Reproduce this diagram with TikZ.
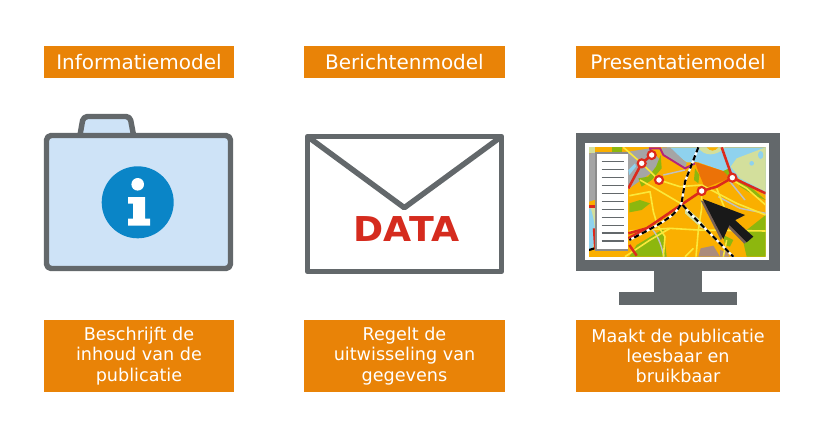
\documentclass[tikz,border=0pt]{standalone}
\usepackage{fontspec}
\setmainfont{DejaVu Sans}
\definecolor{kader}{HTML}{E98307}
\definecolor{ikoon}{HTML}{63686B}
\definecolor{map}{HTML}{CEE3F7}
\definecolor{infoblue}{HTML}{0A85C7}
\definecolor{datared}{HTML}{D52B1E}
\definecolor{land}{HTML}{FAAF00}
\definecolor{landdark}{HTML}{EC7207}
\definecolor{river}{HTML}{8FD2EE}
\definecolor{meadow}{HTML}{D3DF9C}
\definecolor{forest}{HTML}{8DB70E}
\definecolor{city}{HTML}{A5A5A5}
\definecolor{mauve}{HTML}{AB8C7C}
\definecolor{road}{HTML}{FBE83A}
\definecolor{redroad}{HTML}{DC2A1C}
\definecolor{purple}{HTML}{B4247A}
\tikzset{
  titlebox/.style={fill=kader,text=white,minimum width=#1,minimum height=32*0.75pt,inner sep=0pt,font=\fontsize{15}{18}\selectfont},
  textbox/.style={fill=kader,text=white,minimum width=#1,minimum height=72*0.75pt,inner sep=0pt,align=center,font=\fontsize{13.2}{15.6}\selectfont},
  icon/.style={draw=ikoon,line width=4.1pt,line join=round},
  yroad/.style={draw=road,line width=1.2pt,line join=round},
  groad/.style={draw=city!70!white,line width=1.1pt},
  rroad/.style={draw=redroad,line width=1.9pt,line join=round},
  halte/.style={circle,draw=redroad,fill=white,line width=1.6pt,minimum size=6pt,inner sep=0pt},
}
\begin{document}
\begin{tikzpicture}[x=0.75pt,y=-0.75pt]
\useasboundingbox (0,0) rectangle (830,425);

% Drawing the title boxes
\node [titlebox=142.5pt] (titleinfo) at (139,62) {Informatiemodel};
\node [titlebox=150.75pt] (titlemsg) at (404.5,62) {Berichtenmodel};
\node [titlebox=153pt] (titlepres) at (678,62) {Presentatiemodel};

% Drawing the text boxes
\node [textbox=142.5pt] (textinfo) at (139,356) {\raisebox{-0.75pt}{Beschrijft de}\\inhoud van de\\publicatie};
\node [textbox=150.75pt] (textmsg) at (404.5,356) {\raisebox{-0.75pt}{Regelt de}\\uitwisseling van\\gegevens};
\node [textbox=153pt] (textpres) at (678,356) {\raisebox{-0.75pt}{Maakt de publicatie}\\leesbaar en\\bruikbaar};

% Drawing folder
\draw [icon,fill=map] (80,135) -- (82.5,121) [rounded corners=3pt] -- (83.5,116.5) -- (130,116.5) [sharp corners] -- (133.5,135);
\draw [icon,fill=map,rounded corners=3.5pt] (46.5,135.5) rectangle (230.5,268.5);
\fill [infoblue] (137.7,202.3) circle (36);
\fill [white] (137.7,184.3) circle (6.3);
\fill [white] (128,197) -- (145,197) -- (145,218.5) -- (150,218.5) -- (150,225.5) -- (128,225.5) -- (128,218.5) -- (133,218.5) -- (133,203.5) -- (128,203.5) -- cycle;

% Drawing envelope
\draw [icon] (307.5,136.5) rectangle (501.5,271.5);
\draw [icon] (307.5,136.5) -- (404.3,207.7) -- (501.5,136.5);
\node [text=datared,inner sep=0pt,xscale=1.06,font=\fontsize{25.7}{26}\selectfont\bfseries] (datalabel) at (406.5,229.5) {DATA};

% Drawing monitor
\fill [ikoon] (619,292) rectangle (737,305);
\fill [ikoon] (654,270) rectangle (702,293);
\fill [ikoon] (576,133) rectangle (780,271);
\fill [white] (585,143) rectangle (769,260);

% Drawing map on the monitor, in steps of a third of a pixel
\begin{scope}[shift={(570,125)},x=0.25pt,y=-0.25pt]
\begin{scope}
\clip (57,67) rectangle (587,395);
\fill [land] (57,67) rectangle (587,395);

% water and meadow
\fill [river] (290,67) -- (350,112) -- (385,112) -- (480,145) -- (587,210) -- (587,67) -- cycle;
\fill [meadow] (587,67) -- (587,200) -- (510,160) -- (482,125) -- (500,100) -- (587,67);
\fill [meadow] (385,67) .. controls (400,95) and (440,95) .. (465,67) -- cycle;
\fill [land] (410,67) .. controls (420,80) and (435,80) .. (445,67) -- cycle;
\fill [river] (545,115) circle (7);
\fill [river] (572,90) ellipse (8 and 12);

% built up area
\fill [city] (57,85) -- (175,80) -- (240,70) -- (270,105) -- (260,135) -- (235,150) -- (178,190) -- (57,230) -- cycle;
\fill [city] (275,67) -- (300,67) -- (350,115) -- (345,130) -- (280,90) -- cycle;
\fill [land] (57,67) rectangle (125,85);
\fill [meadow] (57,67) rectangle (75,85);
\fill [forest] (125,67) rectangle (155,85);
\fill [river] (175,135) -- (195,115) -- (198,125) -- (178,150) -- cycle;
\fill [meadow] (57,240) rectangle (85,372);
\fill [river] (62,250) .. controls (78,300) and (78,340) .. (66,372) -- (57,372) -- (57,250) -- cycle;

% green patches
\fill [forest] (215,185) -- (205,160) -- (235,155) -- (258,125) -- (272,90) -- (275,130) -- (245,165) -- cycle;
\fill [forest] (178,235) -- (210,225) -- (240,235) -- (215,255) -- (178,262) -- cycle;
\fill [forest] (178,395) -- (200,360) -- (280,312) -- (290,395) -- cycle;
\fill [forest] (505,335) -- (587,270) -- (587,395) -- (530,395) -- (520,352) -- cycle;
\fill [forest] (455,140) -- (478,130) -- (485,155) -- (465,160) -- cycle;
\fill [forest] (500,160) -- (540,185) -- (587,225) -- (560,215) -- (510,185) -- cycle;
\fill [forest] (460,330) -- (490,345) -- (480,365) -- (465,360) -- cycle;
\fill [forest] (375,130) -- (388,150) -- (385,175) -- (372,165) -- cycle;
\fill [landdark] (375,111) -- (459,138) -- (480,159) -- (405,189) -- (390,153) -- cycle;
\fill [mauve] (385,395) -- (392,370) -- (430,362) -- (450,395) -- cycle;
\fill [mauve] (450,375) -- (470,380) -- (478,395) -- (450,395) -- cycle;
\fill [meadow] (345,245) -- (385,280) -- (410,310) -- (395,310) -- (345,265) -- cycle;

% grey and yellow roads
\draw [groad] (245,310) .. controls (270,340) and (275,370) .. (282,395);
\draw [groad] (445,215) -- (510,250) -- (587,265);
\draw [groad] (280,150) -- (345,135);
\draw [groad] (480,170) -- (525,225);
\draw [yroad] (160,67) -- (215,115) -- (267,165) -- (330,185) -- (395,180);
\draw [yroad] (178,212) -- (240,200) -- (250,260) -- (262,300) -- (285,335) -- (280,395);
\draw [yroad] (178,318) -- (300,310) -- (385,315) -- (587,318);
\draw [yroad] (165,395) -- (240,345) -- (300,310);
\draw [yroad] (395,200) -- (395,250) -- (385,315) -- (378,395);
\draw [yroad] (440,190) -- (470,265);
\draw [yroad] (487,165) -- (530,190) -- (587,240);
\draw [yroad] (395,180) -- (500,235) -- (587,270);
\draw [yroad] (340,240) -- (255,190) -- (210,165);
\draw [yroad] (460,395) -- (470,345);
\draw [yroad] (370,370) -- (345,395);

% red roads and railway
\draw [draw=purple,line width=1.4pt] (245,90) -- (240,70) -- (270,70) -- (280,90) -- (345,130) -- (375,115);
\draw [rroad] (175,190) -- (215,115) -- (245,90);
\draw [rroad] (175,325) -- (230,310) -- (340,235) -- (395,198) -- (440,185) -- (487,158) -- (587,205);
\draw [rroad] (175,340) -- (240,305);
\draw [rroad] (487,158) -- (455,67);
\draw [rroad] (57,245) -- (75,245);
\draw [rroad] (72,310) -- (76,372);
\draw [rroad] (178,360) -- (200,392);
\draw [draw=white,line width=1.6pt] (385,67) -- (345,170) -- (335,232) .. controls (320,265) and (305,280) .. (178,345);
\draw [draw=black,line width=1.6pt,dash pattern=on 4pt off 2.5pt] (385,67) -- (345,170) -- (335,232) .. controls (320,265) and (305,280) .. (178,345);
\draw [draw=white,line width=1.6pt] (338,240) -- (365,270) -- (490,395);
\draw [draw=black,line width=1.6pt,dash pattern=on 4pt off 2.5pt] (338,240) -- (365,270) -- (490,395);
\draw [draw=black,line width=1.6pt,dash pattern=on 4pt off 2.5pt] (57,375) -- (80,368);

% stations
\node [halte] (haltea) at (215,115) {};
\node [halte] (halteb) at (245,90) {};
\node [halte] (haltec) at (267,165) {};
\node [halte] (halted) at (395,198) {};
\node [halte] (haltee) at (487,158) {};

% cursor
\fill [mauve!70!black] (392,226) -- (518,274) -- (488,289) -- (543,339) -- (523,356) -- (471,304) -- (453,346) -- cycle;
\fill [black!90] (398,222) -- (525,270) -- (495,285) -- (550,335) -- (530,352) -- (478,300) -- (460,342) -- cycle;
\end{scope}

% Drawing list on the map
\fill [black!45] (74,80) rectangle (175,378);
\fill [white] (82,87) rectangle (175,372);
\foreach \ypos in {110,134,158,182,206,230,254,278,302,324,348}
  \draw [ikoon,line width=1pt] (95,\ypos) -- (162,\ypos);
\end{scope}
\end{tikzpicture}
\end{document}
